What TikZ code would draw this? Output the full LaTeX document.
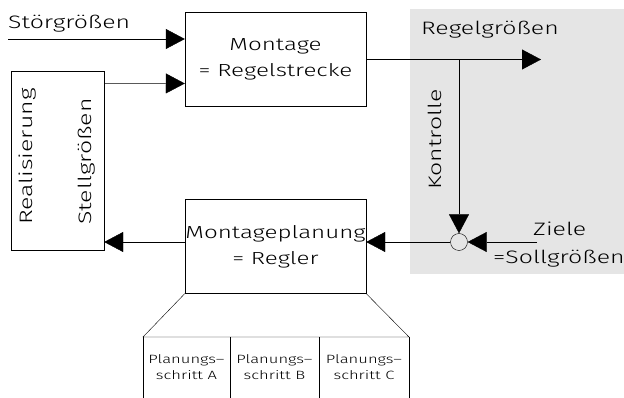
\documentclass[tikz,border=0pt]{standalone}
\usepackage{fontspec}
\setmainfont{Fira Sans Light}[FakeStretch=1.38]
\usetikzlibrary{arrows.meta, positioning, calc}
\tikzset{
	->, % every line gets an arrow
	>={Triangle[length=19pt, width=20pt]}, % big filled heads
	line width=0.7pt,
	node distance=93pt, % gap between the two blocks
	block/.style={draw, minimum width=181pt, minimum height=94pt, inner xsep=0pt, align=center,
		font=\fontsize{17.5}{26}\selectfont,
		execute at begin node={\vspace*{9pt}}}, % text sits a bit low in the box
	lbl/.style={font=\fontsize{18}{27}\selectfont, inner sep=0pt},
	step label/.style={font=\fontsize{12}{16}\selectfont, align=center, inner sep=0pt},
}

\begin{document}
\begin{tikzpicture}[x=1pt, y=-1pt]
	\useasboundingbox (0,0) rectangle (624,398);
	% feedback area
	\fill[gray!20] (410,9) rectangle (624,274);

	\node[block] (montage) at (275.5,59) {Montage\\= Regelstrecke};
	\node[block] (regler) [below=of montage] {Montageplanung\\= Regler};
	\node[draw, minimum width=93pt, minimum height=179pt] (real) at (57.5,160.5) {};
	\node[draw, circle, minimum size=17pt, inner sep=0pt] (sum) at (459,242) {};

	% labels
	\node[lbl, anchor=base west] (stoer) at (8,29) {Störgrößen};
	\node[lbl, anchor=base west] (regel) at (421,35) {Regelgrößen};
	\node[lbl, anchor=base west] (ziele) at (533,236) {Ziele};
	\node[lbl, anchor=base west] (soll) at (493,263) {=Sollgrößen};
	\node[lbl, anchor=base west, rotate=90] (realis) at (32,225) {Realisierung};
	\node[lbl, anchor=base west, rotate=90] (stell) at (91,225) {Stellgrößen};
	\node[lbl, anchor=base west, rotate=90] (kontr) at (441,190) {Kontrolle};

	\coordinate (stoerIn) at (8,39);
	\coordinate (regelOut) at (541,59.5);
	\coordinate (zielIn) at (537,242);

	\draw (stoerIn) -- (montage.west |- stoerIn);
	\draw ($(real.north east)+(0,12.5)$) -- ($(montage.west)+(0,24.5)$);
	\draw ($(montage.east)+(0,0.5)$) -- (regelOut);
	\draw (sum |- regelOut) -- (sum.north);
	\draw (zielIn) -- (sum.east);
	\draw (sum.west) -- (regler.east |- sum);
	\draw (regler.west |- sum) -- (real.east |- sum);

	% planning steps below the controller
	\coordinate (t0) at (143,337);
	\coordinate (t1) at (230,337);
	\coordinate (t2) at (319,337);
	\coordinate (t3) at (409,337);
	\draw[-] (regler.south west) -- (t0) -- (t3) -- (regler.south east);
	\foreach \c in {t0,t1,t2,t3}
		\draw[-] (\c) -- (\c |- 0,398);

	\node[step label] (schrittA) at (186.5,367) {Planungs--\\schritt A};
	\node[step label] (schrittB) at (274.5,367) {Planungs--\\schritt B};
	\node[step label] (schrittC) at (364,367) {Planungs--\\schritt C};
\end{tikzpicture}
\end{document}
